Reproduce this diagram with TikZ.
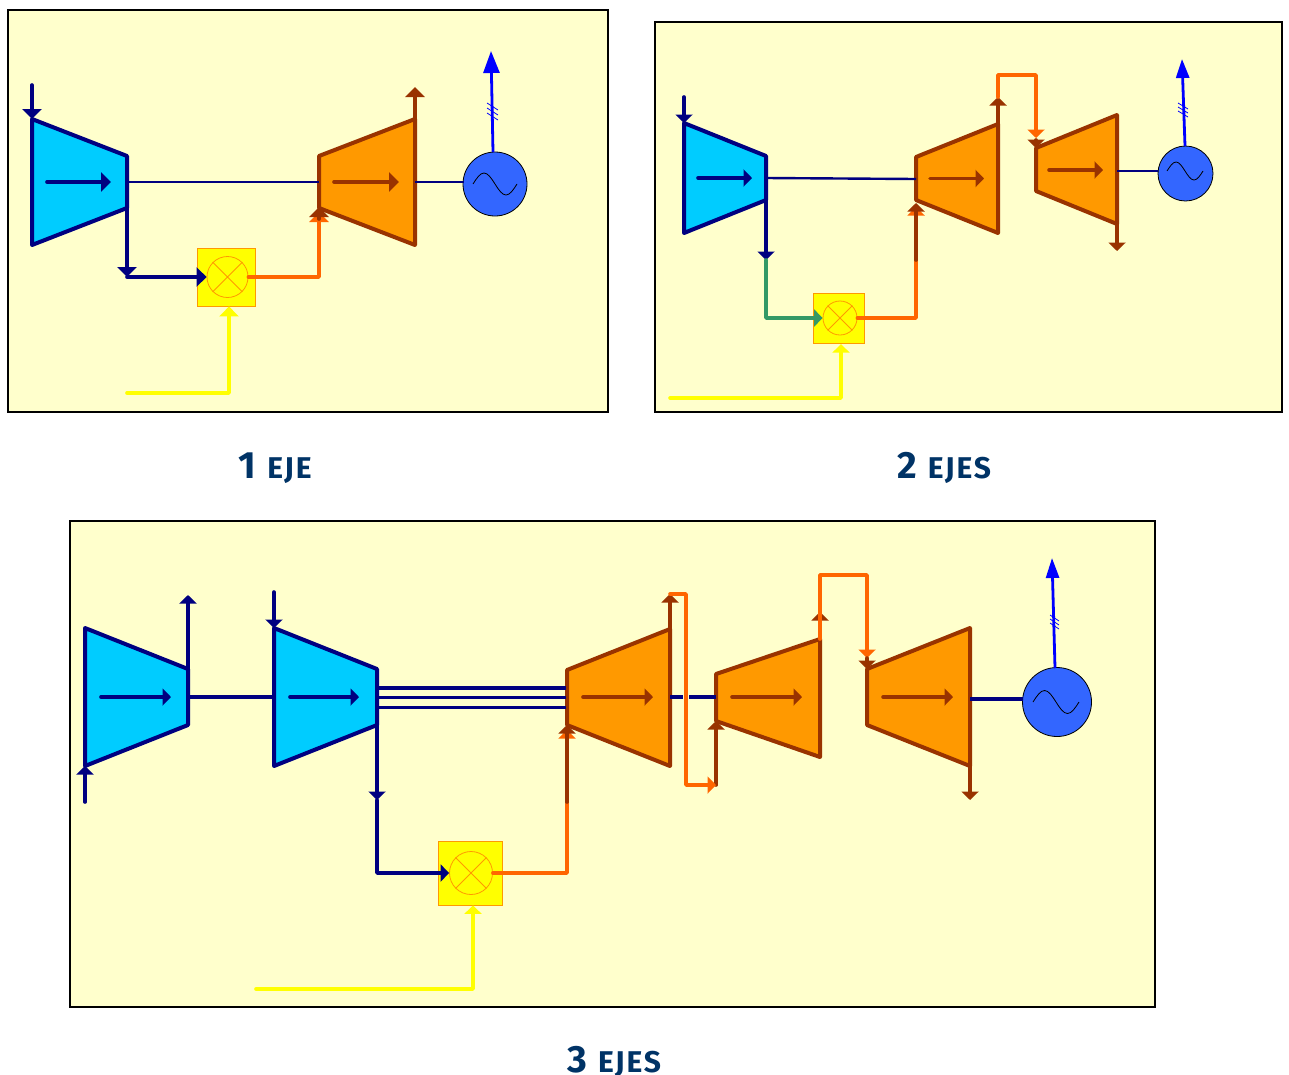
\documentclass[tikz,border=0pt]{standalone}
\usepackage{fontspec}
\newfontfamily\rotulo{Fira Sans}[LetterSpace=6]
\usetikzlibrary{arrows.meta}
\definecolor{fondo}{HTML}{FFFFCC}
\definecolor{marino}{HTML}{000080}
\definecolor{celeste}{HTML}{00CCFF}
\definecolor{naranja}{HTML}{FF9900}
\definecolor{teja}{HTML}{993300}
\definecolor{fuego}{HTML}{FF6600}
\definecolor{verde}{HTML}{339966}
\definecolor{azulgen}{HTML}{3366FF}
\definecolor{tinta}{HTML}{003366}
\definecolor{amarillo}{HTML}{FFFF00}
\definecolor{azul}{HTML}{0000FF}
\tikzset{
	panel/.style={draw=black,fill=fondo,line width=2pt},
	compresor/.style={draw=marino,fill=celeste,line width=4pt,line join=round},
	turbina/.style={draw=teja,fill=naranja,line width=4pt,line join=round},
	flujo/.style={line width=3.6pt,line join=round,line cap=round},
	eje/.style={draw=marino,line width=2.4pt},
	flechag/.style={-{Triangle[width=19pt,length=10pt]}},
	flecha/.style={-{Triangle[width=17pt,length=8.5pt]}},
	camara/.style={draw=naranja,fill=amarillo,line width=0.8pt,inner sep=0pt},
	quemador/.style={circle,draw=naranja,line width=0.8pt,inner sep=0pt},
	generador/.style={circle,draw=black,fill=azulgen,line width=0.8pt,inner sep=0pt},
	onda/.style={draw=black,line width=0.8pt},
	salida/.style={draw=azul,line width=2.8pt},
	raya/.style={draw=azul,line width=0.8pt},
	rotulo/.style={text=tinta,anchor=base,inner sep=0pt,font=\rotulo\bfseries\fontsize{38}{38}\selectfont},
}
\begin{document}
\begin{tikzpicture}[x=1pt,y=-1pt]
	\useasboundingbox (0,0) rectangle (1289,1074);
	\draw[panel] (8,10) rectangle (608,412);
	\draw[panel] (655,22) rectangle (1282,412);
	\draw[panel] (70,521) rectangle (1155,1007);

	\coordinate (ca) at (32,119); \coordinate (cb) at (127,156);
	\coordinate (cc) at (127,208); \coordinate (cd) at (32,245);
	\coordinate (ta) at (319,156); \coordinate (tb) at (415,119);
	\coordinate (tc) at (415,245); \coordinate (td) at (319,208);
	\coordinate (cent) at (32,85); \coordinate (cmed) at (127,277);
	\coordinate (tsal) at (415,87); \coordinate (torc) at (319,277);
	\coordinate (tpun) at (319,212); \coordinate (tbas) at (319,219); \coordinate (ttip) at (319,207);
	\coordinate (comb) at (127,393); \coordinate (cesq) at (229,393);
	\coordinate (car) at (491,51);
	\node[camara,minimum size=58pt] (cam) at (226,277) {};
	\node[quemador,minimum size=41pt] (que) at (227.5,277) {};
	\node[generador,minimum size=64pt] (gen) at (495,184) {};
	\draw[compresor] (ca)--(cb)--(cc)--(cd)--cycle;
	\draw[turbina] (ta)--(tb)--(tc)--(td)--cycle;
	\draw[naranja,line width=0.8pt] (que.45)--(que.225) (que.135)--(que.315);
	\draw[marino,flujo,flechag] (47,182)--(111,182);
	\draw[teja,flujo,flechag] (334,182)--(399,182);
	\draw[eje] (127,182)--(319,182);
	\draw[eje] (415,182)--(464,182);
	\draw[marino,flujo,flechag] (cent)--(ca);
	\draw[marino,flujo,flechag] (cc)--(cmed);
	\draw[marino,flujo,flechag] (cmed)--(que.west|-cmed);
	\draw[fuego,flujo,flechag] (que.east)--(torc)--(tpun);
	\draw[teja,flujo,flechag] (tbas)--(ttip);
	\draw[amarillo,flujo,flechag] (comb)--(cesq)--(cesq|-cam.south);
	\draw[teja,flujo,flechag] (tb)--(tsal);
	\draw[salida,-{Triangle[width=16pt,length=22pt]}] (493,152)--(car);
	\foreach \y in {103,108,113} \draw[raya] (487,\y)--(498,\y+7);
	\draw[onda] (473,184) sin +(11,-11) cos +(11,11) sin +(11,11) cos +(11,-11);

	\coordinate (ea) at (684,123); \coordinate (eb) at (766,156);
	\coordinate (ec) at (766,200); \coordinate (ed) at (684,233);
	\coordinate (fa) at (916,157); \coordinate (fb) at (998,124);
	\coordinate (fc) at (998,233); \coordinate (fd) at (916,200);
	\coordinate (ga) at (1036,148); \coordinate (gb) at (1117,115);
	\coordinate (gc) at (1117,224); \coordinate (gd) at (1036,191);
	\coordinate (eent) at (684,97); \coordinate (emed) at (766,260); \coordinate (ebaj) at (766,318);
	\coordinate (forc) at (916,318); \coordinate (fmed) at (916,260);
	\coordinate (fpun) at (916,207); \coordinate (ftip) at (916,203);
	\coordinate (fsal) at (998,97); \coordinate (farr) at (998,75); \coordinate (garr) at (1036,75);
	\coordinate (gpun) at (1036,138); \coordinate (gbas) at (1036,132); \coordinate (gsal) at (1117,251);
	\coordinate (ecom) at (670,398); \coordinate (eesq) at (841,398);
	\coordinate (ear) at (1182,59);
	\node[camara,minimum size=50.5pt] (ecam) at (839,318.5) {};
	\node[quemador,minimum size=34pt] (eque) at (840,318) {};
	\node[generador,minimum size=55pt] (egen) at (1185.5,173.5) {};
	\draw[compresor] (ea)--(eb)--(ec)--(ed)--cycle;
	\draw[turbina] (fa)--(fb)--(fc)--(fd)--cycle;
	\draw[turbina] (ga)--(gb)--(gc)--(gd)--cycle;
	\draw[naranja,line width=0.8pt] (eque.45)--(eque.225) (eque.135)--(eque.315);
	\draw[marino,flujo,flecha] (698,178)--(752,178);
	\draw[teja,flujo,flecha] (930,178.5)--(984,178.5);
	\draw[teja,flujo,flecha] (1049,170)--(1103,170);
	\draw[eje] (766,178)--(916,179);
	\draw[eje] (1117,171)--(1158,171);
	\draw[marino,flujo,flecha] (eent)--(ea);
	\draw[marino,flujo,flecha] (ec)--(emed);
	\draw[verde,flujo,flecha] (emed)--(ebaj)--(eque.west);
	\draw[fuego,flujo,flecha] (eque.east)--(forc)--(fpun);
	\draw[teja,flujo,flecha] (fmed)--(ftip);
	\draw[amarillo,flujo,flecha] (ecom)--(eesq)--(eesq|-ecam.south);
	\draw[teja,flujo,flecha] (fb)--(fsal);
	\draw[fuego,flujo] (fsal)--(farr)--(garr)--(gbas);
	\draw[fuego,flujo,flecha] (gbas)--(gpun);
	\draw[teja,flujo,flecha] (1036,140)--(ga);
	\draw[teja,flujo,flecha] (gc)--(gsal);
	\draw[salida,-{Triangle[width=13pt,length=19pt]}] (1185,146)--(ear);
	\foreach \y in {103,107,111} \draw[raya] (1178,\y)--(1188,\y+6);
	\draw[onda] (1167,171) sin +(9,-9) cos +(9,9) sin +(9,9) cos +(9,-9);

	\coordinate (ja) at (85,628); \coordinate (jb) at (188,669);
	\coordinate (jc) at (188,725); \coordinate (jd) at (85,766);
	\coordinate (ka) at (274,628); \coordinate (kb) at (377,669);
	\coordinate (kc) at (377,725); \coordinate (kd) at (274,766);
	\coordinate (la) at (567,670); \coordinate (lb) at (670,629);
	\coordinate (lc) at (670,766); \coordinate (ld) at (567,725);
	\coordinate (ma) at (716,674); \coordinate (mb) at (820,639);
	\coordinate (mc) at (820,757); \coordinate (md) at (716,721);
	\coordinate (na) at (867,669); \coordinate (nb) at (970,628);
	\coordinate (nc) at (970,766); \coordinate (nd) at (867,725);
	\coordinate (jent) at (85,802); \coordinate (jsal) at (188,595); \coordinate (kent) at (274,592);
	\coordinate (kmed) at (377,800); \coordinate (kbaj) at (377,873);
	\coordinate (lorc) at (567,873); \coordinate (lmed) at (567,802); \coordinate (lpun) at (567,730);
	\coordinate (lsal) at (670,594); \coordinate (lder) at (686,594); \coordinate (lbaj) at (686,785);
	\coordinate (mbaj) at (716,785); \coordinate (mtip) at (716,721);
	\coordinate (msal) at (820,612); \coordinate (marr) at (820,575); \coordinate (narr) at (867,575);
	\coordinate (npun) at (867,658); \coordinate (nbas) at (867,650); \coordinate (nsal) at (970,800);
	\coordinate (kcom) at (256,989); \coordinate (kesq) at (473,989);
	\coordinate (kar) at (1052,558);
	\node[camara,minimum size=64pt] (kcam) at (470,873) {};
	\node[quemador,minimum size=43pt] (kque) at (471,873) {};
	\node[generador,minimum size=69pt] (kgen) at (1057,702) {};
	\draw[compresor] (ja)--(jb)--(jc)--(jd)--cycle;
	\draw[compresor] (ka)--(kb)--(kc)--(kd)--cycle;
	\draw[turbina] (la)--(lb)--(lc)--(ld)--cycle;
	\draw[turbina] (ma)--(mb)--(mc)--(md)--cycle;
	\draw[turbina] (na)--(nb)--(nc)--(nd)--cycle;
	\draw[naranja,line width=0.8pt] (kque.45)--(kque.225) (kque.135)--(kque.315);
	\foreach \xa/\xb in {101/171,290/359} \draw[marino,flujo,flecha] (\xa,697)--(\xb,697);
	\foreach \xa/\xb in {583/653,732/802,883/953} \draw[teja,flujo,flecha] (\xa,697)--(\xb,697);
	\draw[eje,line width=3.5pt] (188,697)--(274,697);
	\foreach \y in {688,697.5,707.5} \draw[eje,line width=3.5pt] (377,\y)--(566,\y);
	\draw[eje,line width=3.5pt] (670,697)--(683,697);
	\draw[eje,line width=3.5pt] (689,697)--(716,697);
	\draw[eje,line width=4pt] (970,699)--(1023,699);
	\draw[marino,flujo,flecha] (jent)--(jd);
	\draw[marino,flujo,flecha] (jb)--(jsal);
	\draw[marino,flujo,flecha] (kent)--(ka);
	\draw[marino,flujo,flecha] (kc)--(kmed);
	\draw[marino,flujo,flecha] (kmed)--(kbaj)--(kque.west);
	\draw[fuego,flujo,flecha] (kque.east)--(lorc)--(lpun);
	\draw[teja,flujo,flecha] (lmed)--(ld);
	\draw[amarillo,flujo,flecha] (kcom)--(kesq)--(kesq|-kcam.south);
	\draw[teja,flujo,flecha] (lb)--(lsal);
	\draw[teja,flujo,flecha] (mbaj)--(mtip);
	\draw[fuego,flujo,flecha] (lsal)--(lder)--(lbaj)--(mbaj);
	\draw[teja,flujo,flecha] (mb)--(msal);
	\draw[fuego,flujo] (mb)--(marr)--(narr)--(nbas);
	\draw[fuego,flujo,flecha] (nbas)--(npun);
	\draw[teja,flujo,flecha] (npun)--(na);
	\draw[teja,flujo,flecha] (nc)--(nsal);
	\draw[salida,-{Triangle[width=13pt,length=20pt]}] (1055,668)--(kar);
	\foreach \y in {615,619,623} \draw[raya] (1050,\y)--(1059,\y+6);
	\draw[onda] (1033,702) sin +(11.5,-11.5) cos +(11.5,11.5) sin +(11.5,11.5) cos +(11.5,-11.5);

	\node[rotulo] (uno) at (275,478) {1 {\fontsize{30}{30}\selectfont EJE}};
	\node[rotulo] (dos) at (944,478) {2 {\fontsize{30}{30}\selectfont EJES}};
	\node[rotulo] (tres) at (614,1072) {3 {\fontsize{30}{30}\selectfont EJES}};
\end{tikzpicture}
\end{document}
